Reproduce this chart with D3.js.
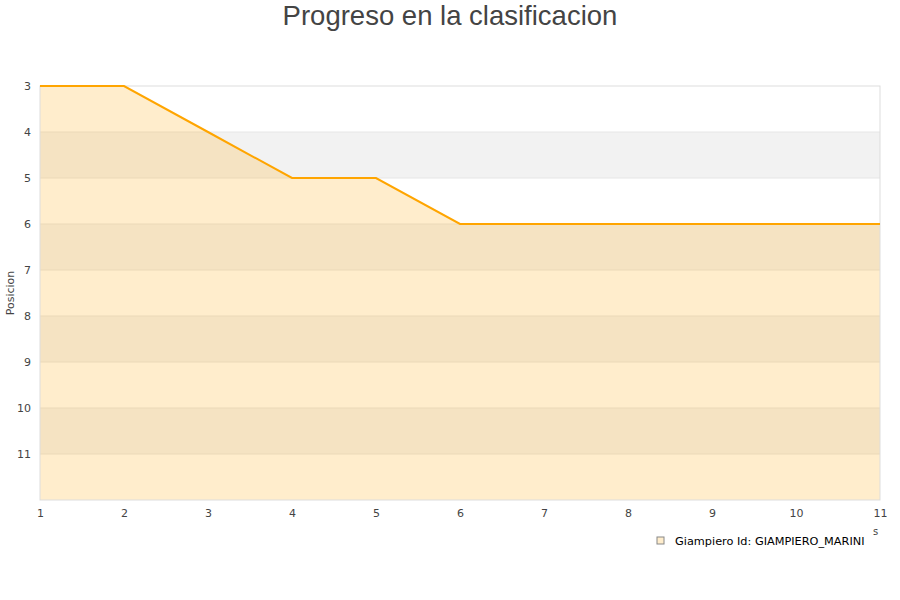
<!DOCTYPE html>
<html>
<head>
<meta charset="utf-8">
<script src="https://cdn.jsdelivr.net/npm/d3@7"></script>
<style>
  body { margin: 0; background: #fff; }
  svg { display: block; }
</style>
</head>
<body>
<svg width="900" height="600"></svg>
<script>
const jornadas = [1, 2, 3, 4, 5, 6, 7, 8, 9, 10, 11];
const posiciones = [3, 3, 4, 5, 5, 6, 6, 6, 6, 6, 6];
const yTicks = [3, 4, 5, 6, 7, 8, 9, 10, 11];
const bandas = [4, 6, 8, 10];
const serieNombre = 'Giampiero Id: GIAMPIERO_MARINI';

const data = jornadas.map((j, i) => ({ x: j, y: posiciones[i] }));

const margin = { left: 40, right: 20, top: 86, bottom: 100 };
const svg = d3.select('svg');
const width = +svg.attr('width');
const height = +svg.attr('height');
const innerWidth = width - margin.left - margin.right;
const innerHeight = height - margin.top - margin.bottom;

const g = svg.append('g')
    .attr('transform', `translate(${margin.left}, ${margin.top})`);

const xScale = d3.scaleLinear().domain([1, 11]).range([0, innerWidth]);
const yScale = d3.scaleLinear().domain([3, 12]).range([0, innerHeight]);

// title
svg.append('text')
    .attr('x', width / 2)
    .attr('y', 25)
    .attr('text-anchor', 'middle')
    .attr('font-family', 'Liberation Sans, Arial, sans-serif')
    .attr('font-size', 27.5)
    .attr('fill', '#444')
    .text('Progreso en la clasificacion');

// alternate bands
g.selectAll('rect.band').data(bandas)
  .enter().append('rect')
    .attr('class', 'band')
    .attr('x', 0)
    .attr('y', d => yScale(d))
    .attr('width', innerWidth)
    .attr('height', d => yScale(d + 1) - yScale(d))
    .attr('fill', '#f2f2f2');

// grid lines
g.selectAll('line.grid').data(yTicks.slice(1))
  .enter().append('line')
    .attr('class', 'grid')
    .attr('x1', 0)
    .attr('x2', innerWidth)
    .attr('y1', d => yScale(d))
    .attr('y2', d => yScale(d))
    .attr('stroke', '#e6e6e6');

// area under the line
const area = d3.area()
    .x(d => xScale(d.x))
    .y0(innerHeight)
    .y1(d => yScale(d.y));
g.append('path')
    .datum(data)
    .attr('d', area)
    .attr('fill', 'rgb(255,177,33)')
    .attr('fill-opacity', 0.23);

// plot border
g.append('rect')
    .attr('width', innerWidth)
    .attr('height', innerHeight)
    .attr('fill', 'none')
    .attr('stroke', '#ddd');

// line
const line = d3.line()
    .x(d => xScale(d.x))
    .y(d => yScale(d.y));
g.append('path')
    .datum(data)
    .attr('d', line)
    .attr('fill', 'none')
    .attr('stroke', '#ffa500')
    .attr('stroke-width', 2);

// axes
const xAxis = d3.axisBottom(xScale).tickValues(jornadas).tickSize(0).tickPadding(9).tickFormat(d3.format('d'));
const yAxis = d3.axisLeft(yScale).tickValues(yTicks).tickSize(0).tickPadding(9).tickFormat(d3.format('d'));

const xAxisG = g.append('g')
    .attr('transform', `translate(0, ${innerHeight})`)
    .call(xAxis);
const yAxisG = g.append('g').call(yAxis);

[xAxisG, yAxisG].forEach(ax => {
  ax.select('.domain').remove();
  ax.selectAll('text')
    .attr('font-family', 'DejaVu Sans, sans-serif')
    .attr('font-size', 11)
    .attr('fill', '#444');
});

// y axis title
svg.append('text')
    .attr('transform', `translate(14, ${margin.top + innerHeight / 2}) rotate(-90)`)
    .attr('text-anchor', 'middle')
    .attr('font-family', 'DejaVu Sans, sans-serif')
    .attr('font-size', 11)
    .attr('fill', '#444')
    .text('Posicion');

// clipped x axis title fragment
svg.append('text')
    .attr('x', 873)
    .attr('y', 535)
    .attr('font-family', 'DejaVu Sans, sans-serif')
    .attr('font-size', 10)
    .attr('fill', '#444')
    .text('s');

// legend
const legend = svg.append('g')
    .attr('transform', 'translate(657, 537)');
legend.append('rect')
    .attr('width', 7)
    .attr('height', 7)
    .attr('fill', '#ffedcc')
    .attr('stroke', '#888');
legend.append('text')
    .attr('x', 18)
    .attr('y', 7.5)
    .attr('font-family', 'DejaVu Sans, sans-serif')
    .attr('font-size', 11.3)
    .attr('fill', '#000')
    .text(serieNombre);
</script>
</body>
</html>
